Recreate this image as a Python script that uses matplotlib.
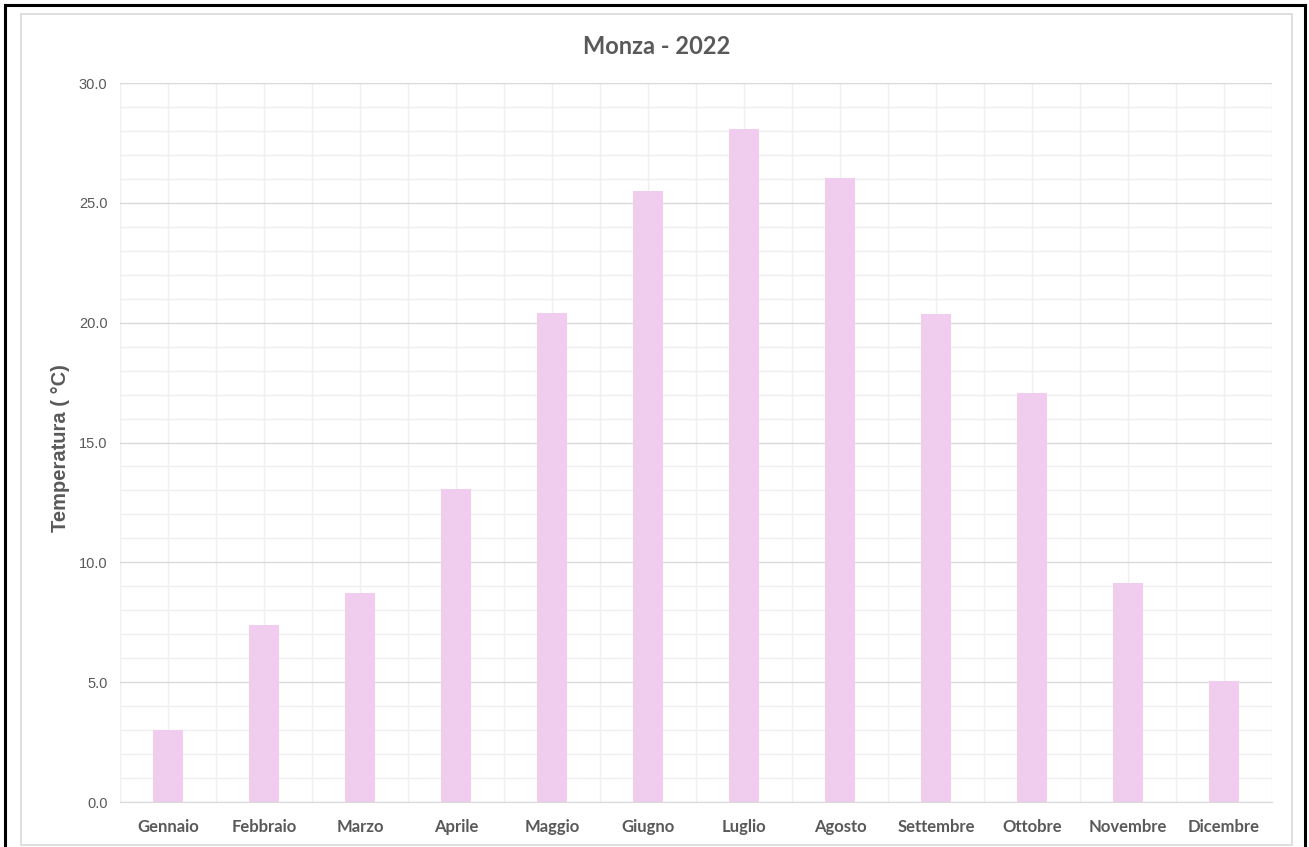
import matplotlib.pyplot as plt
from matplotlib.patches import Rectangle
from matplotlib.lines import Line2D
from matplotlib.ticker import MultipleLocator
import numpy as np

# dati mensili
mesi = ['Gennaio', 'Febbraio', 'Marzo', 'Aprile', 'Maggio', 'Giugno',
        'Luglio', 'Agosto', 'Settembre', 'Ottobre', 'Novembre', 'Dicembre']
temperature = [3.0, 7.4, 8.7, 13.05, 20.4, 25.5, 28.1, 26.05, 20.35, 17.05, 9.15, 5.05]
y_ticks = [0, 5, 10, 15, 20, 25, 30]

W, H = 1309, 847
fig = plt.figure(figsize=(W / 100, H / 100), dpi=100)

# cornici esterne
fig.add_artist(Line2D([5 / W, 5 / W], [0, 1 - 5 / H], color='black', lw=2.2))
fig.add_artist(Line2D([5 / W, 1304.5 / W], [1 - 5 / H, 1 - 5 / H], color='black', lw=2.2))
fig.add_artist(Line2D([1304.5 / W, 1304.5 / W], [0, 1 - 5 / H], color='black', lw=2.2))
fig.add_artist(Rectangle((21 / W, 1 - 845 / H), (1292 - 21) / W, (845 - 14) / H,
                         transform=fig.transFigure, fill=False, ec='#d9d9d9', lw=1.2))

ax = fig.add_axes([120 / W, (H - 802) / H, (1272 - 120) / W, (802 - 83) / H])
x = np.arange(len(mesi))
ax.bar(x, temperature, width=0.31, color='#f0cdee', zorder=3)

ax.set_xlim(-0.5, len(mesi) - 0.5)
ax.set_ylim(0, 30)
ax.set_yticks(y_ticks)
ax.set_yticklabels([f'{v:.1f}' for v in y_ticks], fontsize=10.5, color='#595959',
                   family='Liberation Sans')
ax.yaxis.set_minor_locator(MultipleLocator(1))
ax.set_xticks(x)
ax.set_xticklabels(mesi, fontsize=12, fontweight='bold', color='#595959', family='Lato')
ax.set_xticks(np.arange(-0.5, len(mesi), 0.5), minor=True)

ax.grid(which='minor', color='#efefef', lw=1, zorder=0)
ax.grid(which='major', axis='y', color='#d9d9d9', lw=1, zorder=1)
ax.grid(which='major', axis='x', color='#efefef', lw=1, zorder=0)
ax.tick_params(which='both', length=0)
ax.tick_params(axis='y', pad=9)
ax.tick_params(axis='x', pad=12)
for s in ['left', 'right', 'top']:
    ax.spines[s].set_visible(False)
ax.spines['bottom'].set_color('#d9d9d9')
ax.spines['bottom'].set_zorder(4)

ax.set_ylabel('Temperatura ( °C)', fontsize=14.5, color='#595959', family='Liberation Sans',
              fontweight='bold')
ax.yaxis.set_label_coords((70 - 120) / (1272 - 120), 0.492)
fig.text(656.5 / W, 1 - 47 / H, 'Monza - 2022', ha='center', va='center',
         fontsize=17, fontweight='bold', color='#595959', family='Lato')

fig.savefig('out.png', dpi=100)
